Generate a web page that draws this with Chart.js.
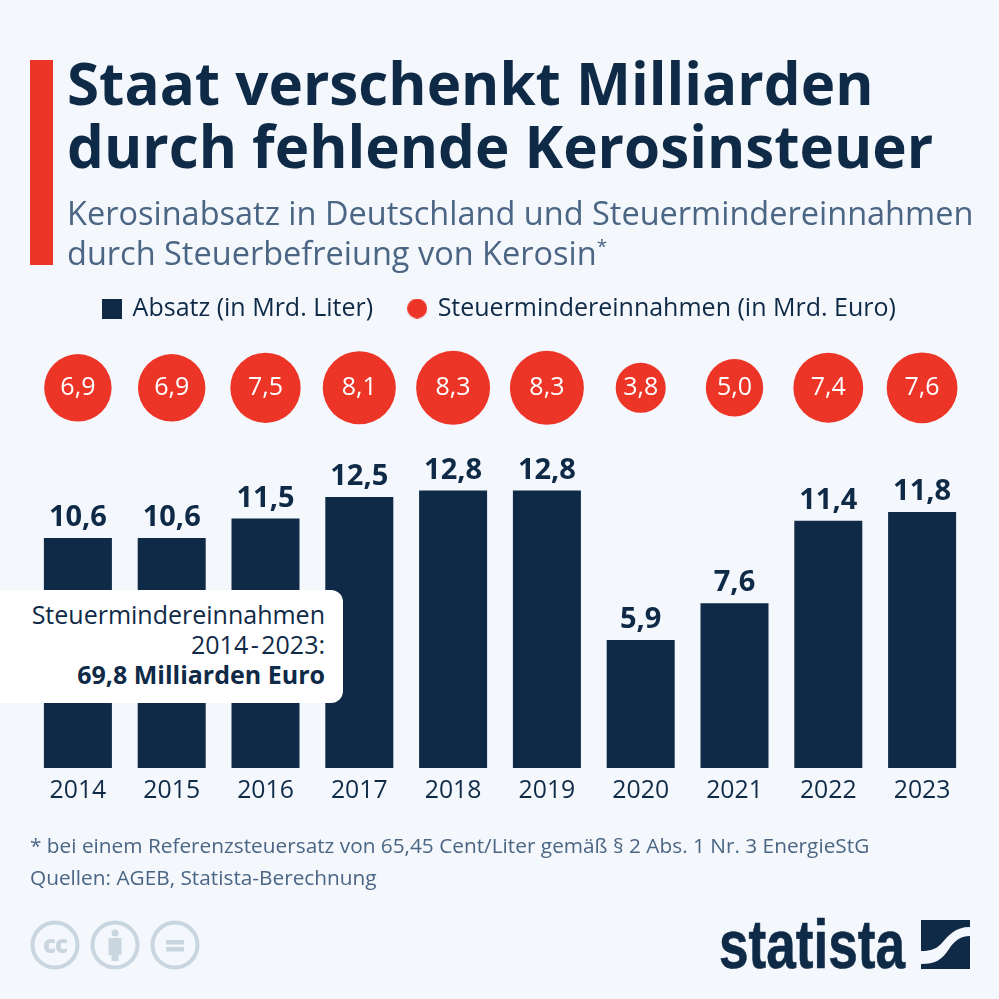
<!DOCTYPE html>
<html lang="de">
<head>
<meta charset="utf-8">
<title>Staat verschenkt Milliarden</title>
<script src="https://cdn.jsdelivr.net/npm/chart.js@4"></script>
<style>
html,body{margin:0;padding:0;background:#f4f8fc;overflow:hidden}
body{width:999px;height:999px;position:relative;font-family:"Open Sans",sans-serif}
canvas{position:absolute;left:0;top:0}
.abs{position:absolute;white-space:nowrap}
#bar{left:30px;top:60px;width:23px;height:205px;background:#ec3527}
#title{left:67px;top:50.5px;font-size:58.3px;line-height:63px;font-weight:700;color:#0f2a47}
#sub{left:67px;top:193px;font-size:32.5px;line-height:40px;color:#4b6584}
#sub sup{font-size:19px;line-height:0;vertical-align:12px}
#callout{left:0;top:590px;width:343px;height:113px;background:#fff;border-radius:0 12px 12px 0;text-align:right;box-sizing:border-box;padding:9px 18px 0 0;font-size:25px;line-height:30px;color:#0f2a47}
#note{left:30px;top:829px;font-size:20.8px;line-height:32px;color:#4b6584}
#logo{left:719px;top:907px;font-family:"Liberation Sans",sans-serif;font-weight:700;font-size:69px;line-height:76px;color:#0f2a47;-webkit-text-stroke:.7px #0f2a47;transform-origin:0 0;transform:scaleX(.77)}
svg{position:absolute}
</style>
</head>
<body>
<canvas id="chart" width="999" height="999"></canvas>
<div class="abs" id="bar"></div>
<div class="abs" id="title">Staat verschenkt Milliarden<br>durch fehlende Kerosinsteuer</div>
<div class="abs" id="sub">Kerosinabsatz in Deutschland und Steuermindereinnahmen<br>durch Steuerbefreiung von Kerosin<sup>*</sup></div>
<div class="abs" id="callout">Steuermindereinnahmen<br>2014&#8202;-&#8202;2023:<br><b>69,8 Milliarden Euro</b></div>
<div class="abs" id="note">* bei einem Referenzsteuersatz von 65,45 Cent/Liter gemäß § 2 Abs. 1 Nr. 3 EnergieStG<br>Quellen: AGEB, Statista-Berechnung</div>
<svg style="left:28px;top:919px" width="174" height="54" viewBox="0 0 174 54">
  <g fill="none" stroke="#c9d5df" stroke-width="4">
    <circle cx="27" cy="26" r="22.5"/><circle cx="87" cy="26" r="22.5"/><circle cx="147" cy="26" r="22.5"/>
  </g>
  <g fill="#c9d5df">
    <circle cx="87" cy="14" r="3.5"/><rect x="80.5" y="19" width="13" height="17"/><rect x="83.5" y="34" width="7" height="8"/>
    <rect x="138" y="21" width="18" height="4.5"/><rect x="138" y="28" width="18" height="4.5"/>
  </g>
  <text x="27" y="34" text-anchor="middle" font-family="Open Sans" font-weight="800" font-size="24" letter-spacing="-1" fill="#c9d5df">cc</text>
</svg>
<div class="abs" id="logo">statista</div>
<svg style="left:921px;top:920px" width="49" height="50" viewBox="0 0 49 50">
  <rect width="49" height="49" fill="#0f2a47"/>
  <path d="M49 7 C34 7 28 15 20 24 C14 30 8 31 0 31 L0 44 C14 44 21 40 28 29 C34 20 40 16 49 16 Z" fill="#f4f8fc"/>
</svg>
<script>
// Werte
const years = ['2014','2015','2016','2017','2018','2019','2020','2021','2022','2023'];
const absatz = [10.6,10.6,11.5,12.5,12.8,12.8,5.9,7.6,11.4,11.8];
const steuer = [6.9,6.9,7.5,8.1,8.3,8.3,3.8,5.0,7.4,7.6];

const navy = '#0f2a47';
const red = '#ec3527';
const font = '"Open Sans", sans-serif';

function deZahl(v){
    return v.toFixed(1).replace('.',',');
}

// Kreisfläche proportional zum Wert
function kreisRadius(v){
    return 37 * Math.sqrt(v / Math.max(...steuer));
}

// Legendensymbole, beide 20px breit
function legendIcon(color,round){
    const c = document.createElement('canvas');
    c.width = 20;
    c.height = 20;
    const g = c.getContext('2d');
    g.fillStyle = color;
    if(round){
        g.arc(10,10,10,0,Math.PI*2);
        g.fill();
    } else {
        g.fillRect(0,0,20,20);
    }
    return c;
}

// Wertelabels über den Balken und in den Kreisen
const labelPlugin = {
    id: 'wertLabels',
    afterDatasetsDraw(chart){
        const ctx = chart.ctx;
        ctx.save();
        ctx.textAlign = 'center';
        ctx.textBaseline = 'middle';
        chart.getDatasetMeta(0).data.forEach((el,i)=>{
            ctx.fillStyle = navy;
            ctx.font = '700 29px ' + font;
            ctx.fillText(deZahl(absatz[i]), el.x, el.y - 20);
        });
        chart.getDatasetMeta(1).data.forEach((el,i)=>{
            ctx.fillStyle = '#fff';
            ctx.font = '500 25px ' + font;
            ctx.fillText(deZahl(steuer[i]), el.x, el.y);
        });
        ctx.restore();
    }
};

new Chart(document.getElementById('chart').getContext('2d'),{
    data:{
        labels:years,
        datasets:[
            {
                type:'bar',
                label:'Absatz (in Mrd. Liter)',
                data:absatz,
                backgroundColor:navy,
                barPercentage:0.725,
                categoryPercentage:1,
                yAxisID:'y'
            },
            {
                type:'bubble',
                label:'Steuermindereinnahmen (in Mrd. Euro)',
                data:steuer.map((v,i)=>({x:years[i],y:0.87,r:kreisRadius(v)})),
                backgroundColor:red,
                borderWidth:0,
                yAxisID:'yKreis'
            }
        ]
    },
    options:{
        responsive:false,
        animation:false,
        events:[],
        layout:{autoPadding:false,padding:{top:260,left:31,right:30,bottom:189}},
        plugins:{
            tooltip:{enabled:false},
            legend:{
                position:'top',
                align:'center',
                labels:{
                    usePointStyle:true,
                    boxHeight:20,
                    pointStyleWidth:16,
                    padding:36,
                    color:navy,
                    font:{family:font,size:25},
                    generateLabels(chart){
                        const items = Chart.defaults.plugins.legend.labels.generateLabels(chart);
                        items[0].pointStyle = legendIcon(navy,false);
                        items[1].pointStyle = legendIcon(red,true);
                        return items;
                    }
                }
            }
        },
        scales:{
            x:{
                type:'category',
                grid:{display:false},
                border:{display:false},
                ticks:{color:navy,padding:0,maxRotation:0,font:{family:font,size:24.8}},
                afterFit(scale){
                    scale.height = 42;
                }
            },
            y:{display:false,min:0,max:20.15},
            yKreis:{display:false,min:0,max:1}
        }
    },
    plugins:[labelPlugin]
});
</script>
</body>
</html>
